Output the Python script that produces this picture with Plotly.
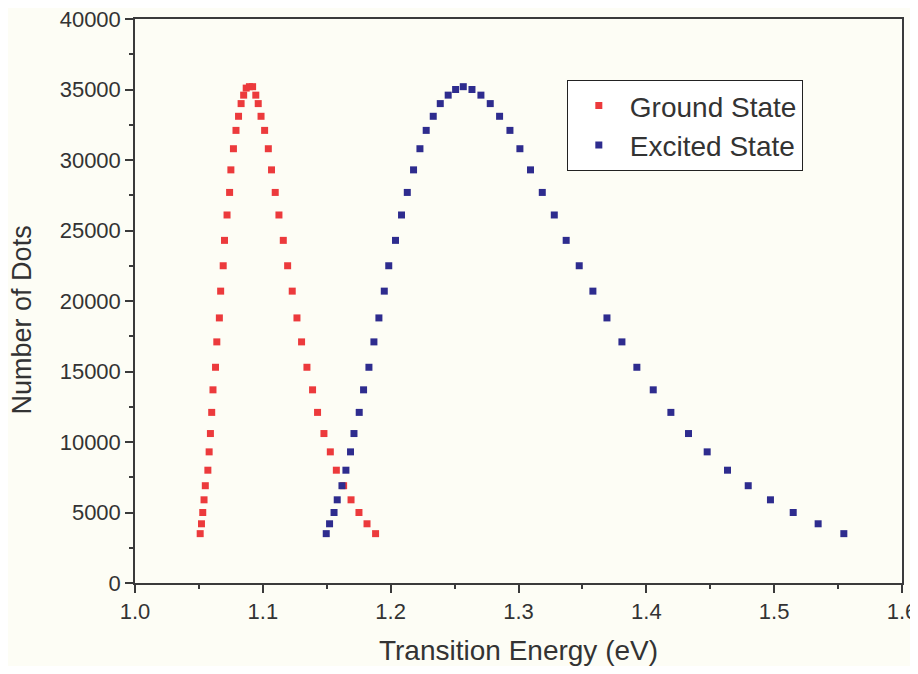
import plotly.graph_objects as go

# Ground State (red)
ground_x = [1.051, 1.052, 1.053, 1.054, 1.055, 1.057, 1.058, 1.059, 1.060, 1.061,
            1.063, 1.064, 1.066, 1.067, 1.069, 1.070, 1.072, 1.074, 1.075, 1.077,
            1.079, 1.081, 1.083, 1.085, 1.087, 1.0895, 1.092,
            1.0945, 1.0964, 1.0986, 1.1014, 1.1043, 1.1068, 1.1097, 1.1126, 1.1160, 1.1194,
            1.1230, 1.1267, 1.1303, 1.1345, 1.1389, 1.1428, 1.1478, 1.1528, 1.1575, 1.1632,
            1.1690, 1.1752, 1.1815, 1.1882]
ground_y = [3500, 4200, 5000, 5900, 6900, 8000, 9300, 10600, 12100, 13700,
            15300, 17100, 18800, 20700, 22500, 24300, 26100, 27700, 29300, 30800,
            32100, 33100, 34000, 34600, 35100, 35200, 35200,
            34600, 34000, 33100, 32100, 30800, 29300, 27700, 26100, 24300, 22500,
            20700, 18800, 17100, 15300, 13700, 12100, 10600, 9300, 8000, 6900,
            5900, 5000, 4200, 3500]

# Excited State (blue)
excited_x = [1.1496, 1.1522, 1.1557, 1.1582, 1.1619, 1.1650, 1.1686, 1.1713, 1.1754, 1.1788,
             1.1830, 1.1869, 1.1908, 1.1950, 1.1985, 1.2038, 1.2085, 1.2130, 1.2179, 1.2229,
             1.2278, 1.2333, 1.2388, 1.2450, 1.2508, 1.2568, 1.2636, 1.2706, 1.2779, 1.2852,
             1.2933, 1.3011, 1.3094, 1.3186, 1.3280, 1.3373, 1.3475, 1.3582, 1.3692, 1.3809,
             1.3926, 1.4054, 1.4192, 1.4330, 1.4476, 1.4635, 1.4797, 1.4971, 1.5149, 1.5344,
             1.5545]
excited_y = [3500, 4200, 5000, 5900, 6900, 8000, 9300, 10600, 12100, 13700,
             15300, 17100, 18800, 20700, 22500, 24300, 26100, 27700, 29300, 30800,
             32100, 33100, 34000, 34600, 35000, 35200, 35000, 34600, 34000, 33100,
             32100, 30800, 29300, 27700, 26100, 24300, 22500, 20700, 18800, 17100,
             15300, 13700, 12100, 10600, 9300, 8000, 6900, 5900, 5000, 4200,
             3500]

x_ticks = [1.0, 1.1, 1.2, 1.3, 1.4, 1.5, 1.6]
y_ticks = [0, 5000, 10000, 15000, 20000, 25000, 30000, 35000, 40000]

FONT = "Liberation Sans, Arial, sans-serif"
AXIS_COLOR = "#3a3a3a"
TEXT_COLOR = "#333333"

fig = go.Figure()
fig.add_trace(go.Scatter(x=ground_x, y=ground_y, mode="markers", name="Ground State",
                         marker=dict(symbol="square", size=7, color="#ec3a3c", line=dict(width=0))))
fig.add_trace(go.Scatter(x=excited_x, y=excited_y, mode="markers", name="Excited State",
                         marker=dict(symbol="square", size=7, color="#2e2c8e", line=dict(width=0))))

axis_common = dict(showgrid=False, zeroline=False, showline=True, linecolor=AXIS_COLOR,
                   linewidth=1.5, mirror=True, ticks="outside", ticklen=8, tickwidth=1.5,
                   tickcolor=AXIS_COLOR, automargin=False, ticklabeloverflow="allow",
                   tickfont=dict(family=FONT, size=22, color=TEXT_COLOR))

# page body has an 8px margin; figure sized so the page is 918x674
fig.update_layout(
    width=902, height=658,
    margin=dict(l=127, r=8, t=11, b=83),
    paper_bgcolor="#fdfdf5",
    plot_bgcolor="#fdfdf5",
    font=dict(family=FONT, color=TEXT_COLOR),
    showlegend=True,
    legend=dict(x=0.563, y=0.892, xanchor="left", yanchor="top",
                bgcolor="#ffffff", bordercolor="#222222", borderwidth=1,
                font=dict(family=FONT, size=28, color=TEXT_COLOR),
                itemwidth=52, tracegroupgap=0),
    xaxis=dict(range=[1.0, 1.6], tickvals=x_ticks, ticktext=[f"{v:.1f}" for v in x_ticks],
               minor=dict(ticks="outside", ticklen=4, dtick=0.05, tickcolor=AXIS_COLOR, tickwidth=1.5),
               title=dict(text="Transition Energy (eV)", font=dict(family=FONT, size=28, color=TEXT_COLOR),
                          standoff=22),
               **axis_common),
    yaxis=dict(range=[0, 40000], tickvals=y_ticks, ticktext=[str(v) for v in y_ticks],
               minor=dict(ticks="outside", ticklen=4, dtick=2500, tickcolor=AXIS_COLOR, tickwidth=1.5),
               **axis_common),
    annotations=[dict(text="Number of Dots", xref="paper", yref="paper", x=-0.147, y=0.466,
                      xanchor="center", yanchor="middle", textangle=-90, showarrow=False,
                      font=dict(family=FONT, size=27, color=TEXT_COLOR))],
)

fig.write_html("out.html")
